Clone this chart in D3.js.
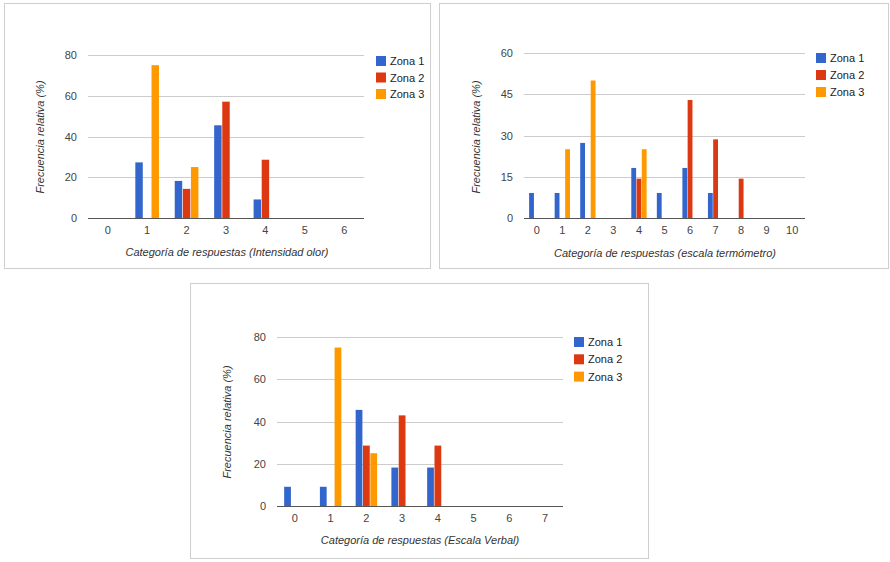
<!DOCTYPE html>
<html>
<head>
<meta charset="utf-8">
<script src="https://cdn.jsdelivr.net/npm/d3@7"></script>
<style>
  body { margin: 0; background: #fff; }
  text { font-family: Arial, "Liberation Sans", sans-serif; }
</style>
</head>
<body>
<div id="chart"></div>
<script>
// Series names and colours
var zonas = ["Zona 1", "Zona 2", "Zona 3"];
var colores = ["#3366cc", "#dc3912", "#ff9900"];

// Panel 1: Intensidad olor
var catsOlor = ["0", "1", "2", "3", "4", "5", "6"];
var olorZona1 = [0, 27.3, 18.2, 45.5, 9.1, 0, 0];
var olorZona2 = [0, 0, 14.3, 57.1, 28.6, 0, 0];
var olorZona3 = [0, 75, 25, 0, 0, 0, 0];
var olorTicks = [0, 20, 40, 60, 80];

// Panel 2: escala termómetro
var catsTermo = ["0", "1", "2", "3", "4", "5", "6", "7", "8", "9", "10"];
var termoZona1 = [9.1, 9.1, 27.3, 0, 18.2, 9.1, 18.2, 9.1, 0, 0, 0];
var termoZona2 = [0, 0, 0, 0, 14.3, 0, 42.9, 28.6, 14.3, 0, 0];
var termoZona3 = [0, 25, 50, 0, 25, 0, 0, 0, 0, 0, 0];
var termoTicks = [0, 15, 30, 45, 60];

// Panel 3: Escala Verbal
var catsVerbal = ["0", "1", "2", "3", "4", "5", "6", "7"];
var verbalZona1 = [9.1, 9.1, 45.5, 18.2, 18.2, 0, 0, 0];
var verbalZona2 = [0, 0, 28.6, 42.9, 28.6, 0, 0, 0];
var verbalZona3 = [0, 75, 25, 0, 0, 0, 0, 0];
var verbalTicks = [0, 20, 40, 60, 80];

var yTitle = "Frecuencia relativa (%)";

var svg = d3.select("#chart").append("svg")
    .attr("width", 890)
    .attr("height", 562);

function drawPanel(p) {
    var g = svg.append("g");

    // frame
    g.append("rect")
        .attr("x", p.frame[0] + 0.5).attr("y", p.frame[1] + 0.5)
        .attr("width", p.frame[2]).attr("height", p.frame[3])
        .attr("fill", "#fff").attr("stroke", "#cfcfcf");

    var x = d3.scaleBand().domain(p.cats).range([p.left, p.right]);
    var groupW = x.bandwidth() * 0.6;
    var x1 = d3.scaleBand().domain(zonas).range([0, groupW]).paddingInner(0.08);
    var y = d3.scaleLinear().domain([0, d3.max(p.ticks)]).range([p.bottom, p.top]);
    var color = d3.scaleOrdinal().domain(zonas).range(colores);

    // gridlines
    g.append("g").selectAll("line")
        .data(p.ticks.filter(d => d > 0))
        .enter().append("line")
        .attr("x1", p.left).attr("x2", p.right)
        .attr("y1", d => Math.round(y(d)) + 0.5).attr("y2", d => Math.round(y(d)) + 0.5)
        .attr("stroke", "#cccccc");

    // y tick labels
    g.append("g").selectAll("text")
        .data(p.ticks)
        .enter().append("text")
        .attr("x", p.left - 11)
        .attr("y", d => y(d) + 4)
        .attr("text-anchor", "end")
        .style("font-size", "11px")
        .style("fill", "#444")
        .text(d => d);

    // bars
    var rows = p.cats.map((c, i) => ({ cat: c, vals: zonas.map((z, k) => ({ zona: z, value: p.series[k][i] })) }));
    g.append("g").selectAll("g")
        .data(rows)
        .enter().append("g")
        .attr("transform", d => "translate(" + (x(d.cat) + (x.bandwidth() - groupW) / 2) + ",0)")
        .selectAll("rect")
        .data(d => d.vals.filter(v => v.value > 0))
        .enter().append("rect")
        .attr("x", d => x1(d.zona))
        .attr("width", x1.bandwidth())
        .attr("y", d => y(d.value))
        .attr("height", d => y(0) - y(d.value))
        .attr("fill", d => color(d.zona));

    // baseline
    g.append("line")
        .attr("x1", p.left).attr("x2", p.right)
        .attr("y1", Math.round(y(0)) + 0.5).attr("y2", Math.round(y(0)) + 0.5)
        .attr("stroke", "#555");

    // x tick labels
    g.append("g").selectAll("text")
        .data(p.cats)
        .enter().append("text")
        .attr("x", d => x(d) + x.bandwidth() / 2)
        .attr("y", p.bottom + 16)
        .attr("text-anchor", "middle")
        .style("font-size", "11px")
        .style("fill", "#444")
        .text(d => d);

    // axis titles
    g.append("text")
        .attr("x", p.xTitlePos[0]).attr("y", p.xTitlePos[1])
        .attr("text-anchor", "middle")
        .style("font-size", "11px").style("font-style", "italic")
        .style("fill", "#333")
        .text(p.xTitle);

    g.append("text")
        .attr("transform", "translate(" + p.yTitlePos[0] + "," + p.yTitlePos[1] + ") rotate(-90)")
        .attr("text-anchor", "middle")
        .style("font-size", "11px").style("font-style", "italic")
        .style("fill", "#333")
        .text(yTitle);

    // legend
    var leg = g.append("g").selectAll("g")
        .data(zonas)
        .enter().append("g")
        .attr("transform", (d, i) => "translate(" + p.legend[0] + "," + (p.legend[1] + i * p.legend[2]) + ")");
    leg.append("rect")
        .attr("x", 0).attr("y", -5)
        .attr("width", 10).attr("height", 10)
        .attr("fill", d => color(d));
    leg.append("text")
        .attr("x", 14).attr("y", 4)
        .style("font-size", "11px")
        .style("fill", "#222")
        .text(d => d);
}

drawPanel({
    frame: [4, 3, 426, 265],
    left: 88, right: 364, top: 55, bottom: 218,
    cats: catsOlor, series: [olorZona1, olorZona2, olorZona3], ticks: olorTicks,
    xTitle: "Categoría de respuestas (Intensidad olor)",
    xTitlePos: [227, 256], yTitlePos: [44, 137],
    legend: [376, 61, 16.5]
});

drawPanel({
    frame: [439, 3, 449, 265],
    left: 524, right: 805, top: 53, bottom: 218,
    cats: catsTermo, series: [termoZona1, termoZona2, termoZona3], ticks: termoTicks,
    xTitle: "Categoría de respuestas (escala termómetro)",
    xTitlePos: [665, 257], yTitlePos: [480, 137],
    legend: [816, 58, 17]
});

drawPanel({
    frame: [190, 283, 458, 275],
    left: 277, right: 563, top: 337, bottom: 506,
    cats: catsVerbal, series: [verbalZona1, verbalZona2, verbalZona3], ticks: verbalTicks,
    xTitle: "Categoría de respuestas (Escala Verbal)",
    xTitlePos: [420, 544], yTitlePos: [231, 422],
    legend: [574, 342, 17.3]
});
</script>
</body>
</html>
